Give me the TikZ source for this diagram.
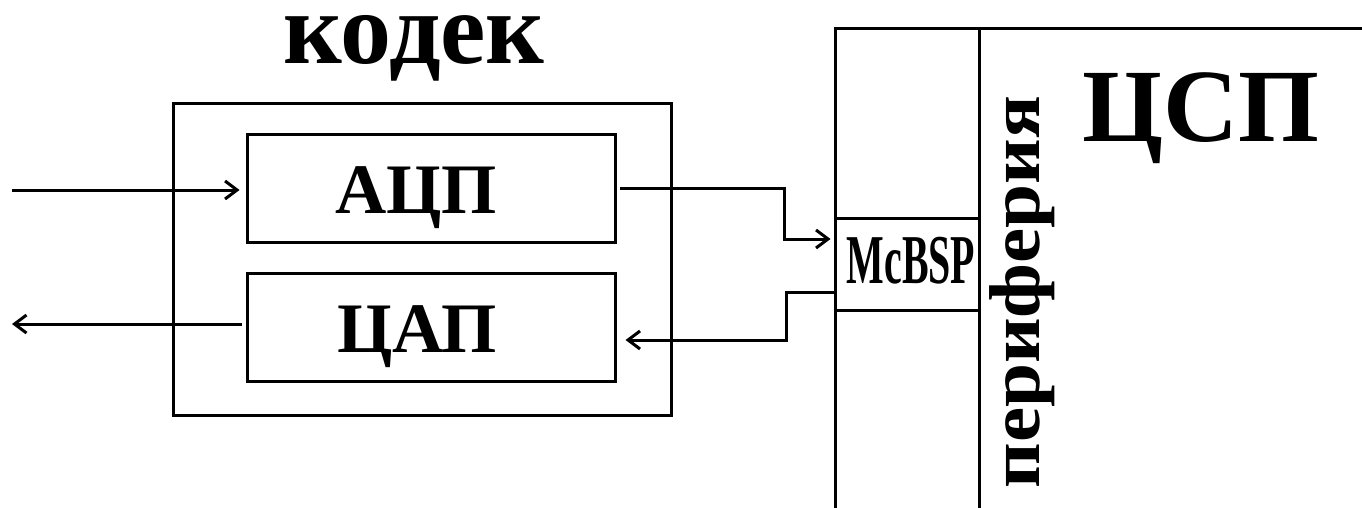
\documentclass[tikz,border=0pt]{standalone}
\usepackage{fontspec}
\setmainfont{Liberation Serif}
\usepackage{graphicx}
\usetikzlibrary{arrows.meta}

\begin{document}
\begin{tikzpicture}[x=1pt,y=-1pt,
  line width=3pt,
  blockbox/.style={draw, rectangle, inner sep=0pt, minimum width=#1},
  label/.style={inner sep=0pt, anchor=base, font=\bfseries},
  arr/.style={-{Straight Barb[length=12pt,width=18pt]}}
]
  % picture frame (the DSP block runs off the right and bottom edges)
  \clip (0,0) rectangle (1362,508);

  % codec with its two converters
  \node[blockbox=498, minimum height=311] (codec) at (422,259.5) {};
  \node[blockbox=368, minimum height=107] (adc) at (431,188.5) {};
  \node[blockbox=368, minimum height=108] (dac) at (431,327) {};

  \node[label, font=\bfseries\fontsize{102}{106}\selectfont] (codecname) at (414,64) {кодек};
  \node[label, font=\bfseries\fontsize{71}{75}\selectfont] (adcname) at (416,213) {АЦП};
  \node[label, font=\bfseries\fontsize{71}{75}\selectfont] (dacname) at (417,352) {ЦАП};

  % DSP block with its peripheral column
  \node[blockbox=565, minimum height=511] (dsp) at (1117.5,284.5) {};
  \node[blockbox=144, minimum height=511] (periph) at (907,284.5) {};
  \node[blockbox=144, minimum height=92] (mcbsp) at (907,264) {};

  \node[label, font=\bfseries\fontsize{70}{74}\selectfont] (mcbspname) at (911,283)
    {\scalebox{0.57}[1]{McBSP}};
  \node[label, font=\bfseries\fontsize{72}{76}\selectfont, rotate=90] (periphname) at (1039,292)
    {\scalebox{1.1}[1]{периферия}};
  \node[label, font=\bfseries\fontsize{104}{108}\selectfont] (dspname) at (1201,142) {ЦСП};

  % analogue input and output
  \coordinate (ain) at (12,190);
  \coordinate (aout) at (12,324);
  \draw[arr, shorten >=6pt] (ain) -- (ain -| adc.west);
  \draw[arr, shorten <=4pt] (aout -| dac.west) -- (aout);

  % serial link between codec and McBSP
  \draw[arr, shorten <=3pt, shorten >=3pt]
    (adc.east) -- ++(168,0) |- ([yshift=25pt]mcbsp.west);
  \draw[arr, shorten >=9pt]
    ([yshift=-28pt]mcbsp.west) -- ++(-47,0) |- ([yshift=-13pt]dac.east);
\end{tikzpicture}
\end{document}
